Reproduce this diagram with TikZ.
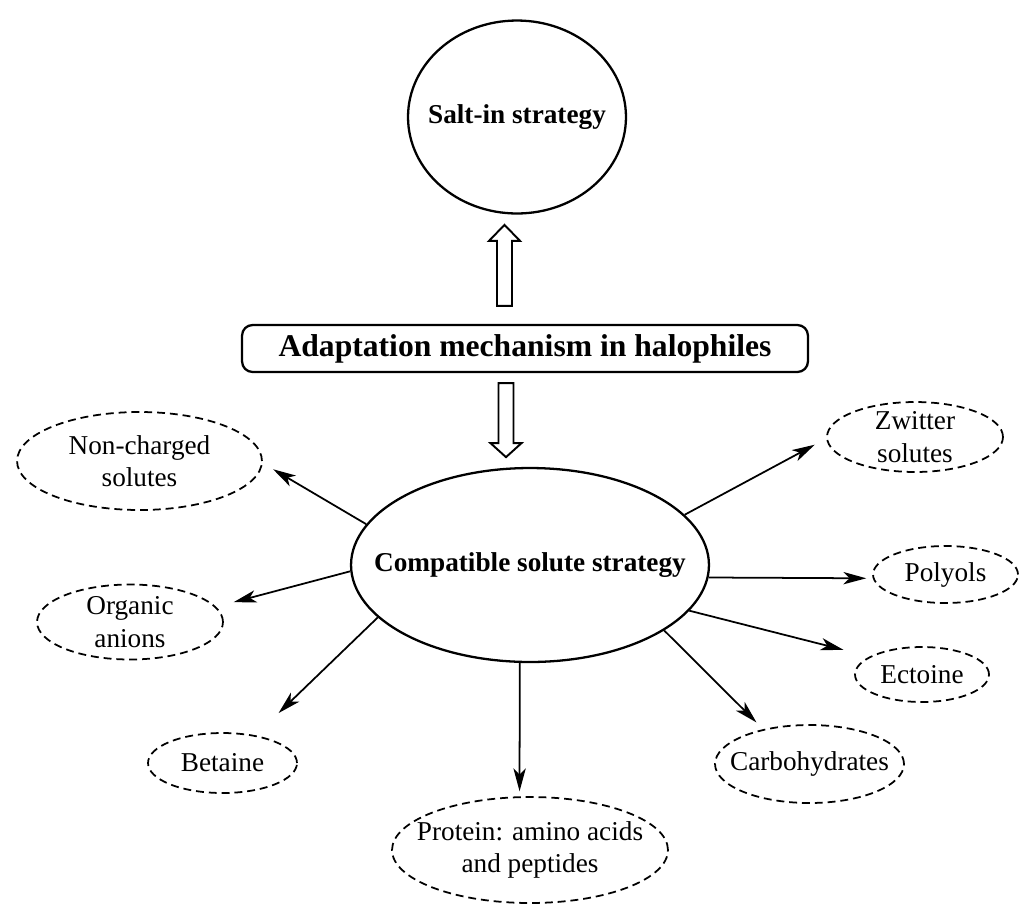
\documentclass[tikz,border=0pt]{standalone}
\usepackage{fontspec}
\setmainfont{Liberation Serif}
\usetikzlibrary{shapes.geometric, arrows.meta}

\begin{document}
\begin{tikzpicture}[
    x=0.02cm, y=-0.02cm,
    strategy/.style 2 args={
        ellipse,
        draw=black,
        line width=1.3pt,
        minimum width=#1,
        minimum height=#2
    },
    solute/.style 2 args={
        ellipse,
        draw=black,
        line width=1pt,
        dash pattern=on 4.5pt off 2.8pt,
        minimum width=#1,
        minimum height=#2
    },
    bold/.style={font=\fontsize{15.5}{18}\selectfont\bfseries},
    plain/.style={align=center, font=\fontsize{15.5}{18.5}\selectfont},
    mechbox/.style={
        rectangle,
        draw=black,
        line width=1.3pt,
        rounded corners=6pt,
        minimum width=11.32cm,
        minimum height=0.94cm,
        font=\fontsize{18}{22}\selectfont\bfseries
    },
    hollow/.style={draw=black, line width=1.1pt, line join=miter},
    arrow/.style={-{Stealth[length=13pt, width=7pt, inset=3.5pt]}, line width=1pt}
]
\useasboundingbox (0,0) rectangle (1025,904);

% Strategy nodes
\node[strategy={4.36cm}{3.86cm}, label={[bold]center:Salt-in strategy}] (salt) at (517,117) {};
\node[mechbox] (mech) at (525,348.5) {Adaptation mechanism in halophiles};
\node[strategy={7.16cm}{3.88cm}, label={[bold]center:Compatible solute strategy}] (comp) at (530,565) {};

% Solute nodes
\node[solute={4.9cm}{1.96cm}, label={[plain]center:{Non-charged\\solutes}}] (noncharged) at (139.5,461) {};
\node[solute={3.72cm}{1.5cm}, label={[plain]center:{Organic\\anions}}] (anions) at (130,622) {};
\node[solute={2.98cm}{1.2cm}, label={[plain]center:Betaine}] (betaine) at (222.5,763) {};
\node[solute={5.52cm}{2.12cm}, label={[plain]center:{Protein: amino acids\\and peptides}}] (protein) at (530,850) {};
\node[solute={3.78cm}{1.56cm}, label={[plain]center:Carbohydrates}] (carbo) at (809.5,764) {};
\node[solute={2.68cm}{1.1cm}, label={[plain]center:Ectoine}] (ectoine) at (922,674.5) {};
\node[solute={2.9cm}{1.14cm}, label={[plain]center:Polyols}] (polyols) at (945.5,574.5) {};
\node[solute={3.52cm}{1.4cm}, label={[plain]center:{Zwitter\\solutes}}] (zwitter) at (915,437) {};

% Hollow arrows
\coordinate (uptail) at ([xshift=-0.41cm, yshift=0.36cm]mech.north);
\coordinate (downtail) at ([xshift=-0.38cm, yshift=-0.2cm]mech.south);
\draw[hollow] (uptail) ++(-7.5,0) -- ++(0,-65) -- ++(-8,0) -- ++(15.5,-16)
    -- ++(15.5,16) -- ++(-8,0) -- ++(0,65) -- cycle;
\draw[hollow] (downtail) ++(-7.5,0) -- ++(0,60) -- ++(-8,0) -- ++(15.5,14)
    -- ++(15.5,-14) -- ++(-8,0) -- ++(0,-60) -- cycle;

% Arrows to solutes
\draw[arrow, shorten >=0.24cm] (comp.166) -- (noncharged.359);
\draw[arrow, shorten >=0.36cm] (comp.182) -- (anions.10);
\draw[arrow, shorten >=0.64cm] (comp.199) -- (betaine.40);
\draw[arrow, shorten >=0.1cm] (comp.264) -- (protein.101);
\draw[arrow, shorten >=0.19cm] (comp.334) -- (carbo.143);
\draw[arrow, shorten >=0.54cm] (comp.344) -- (ectoine.161);
\draw[arrow, shorten >=0.13cm] (comp.356) -- (polyols.183);
\draw[arrow, shorten >=0.26cm] (comp.18) -- (zwitter.181);

\end{tikzpicture}
\end{document}
